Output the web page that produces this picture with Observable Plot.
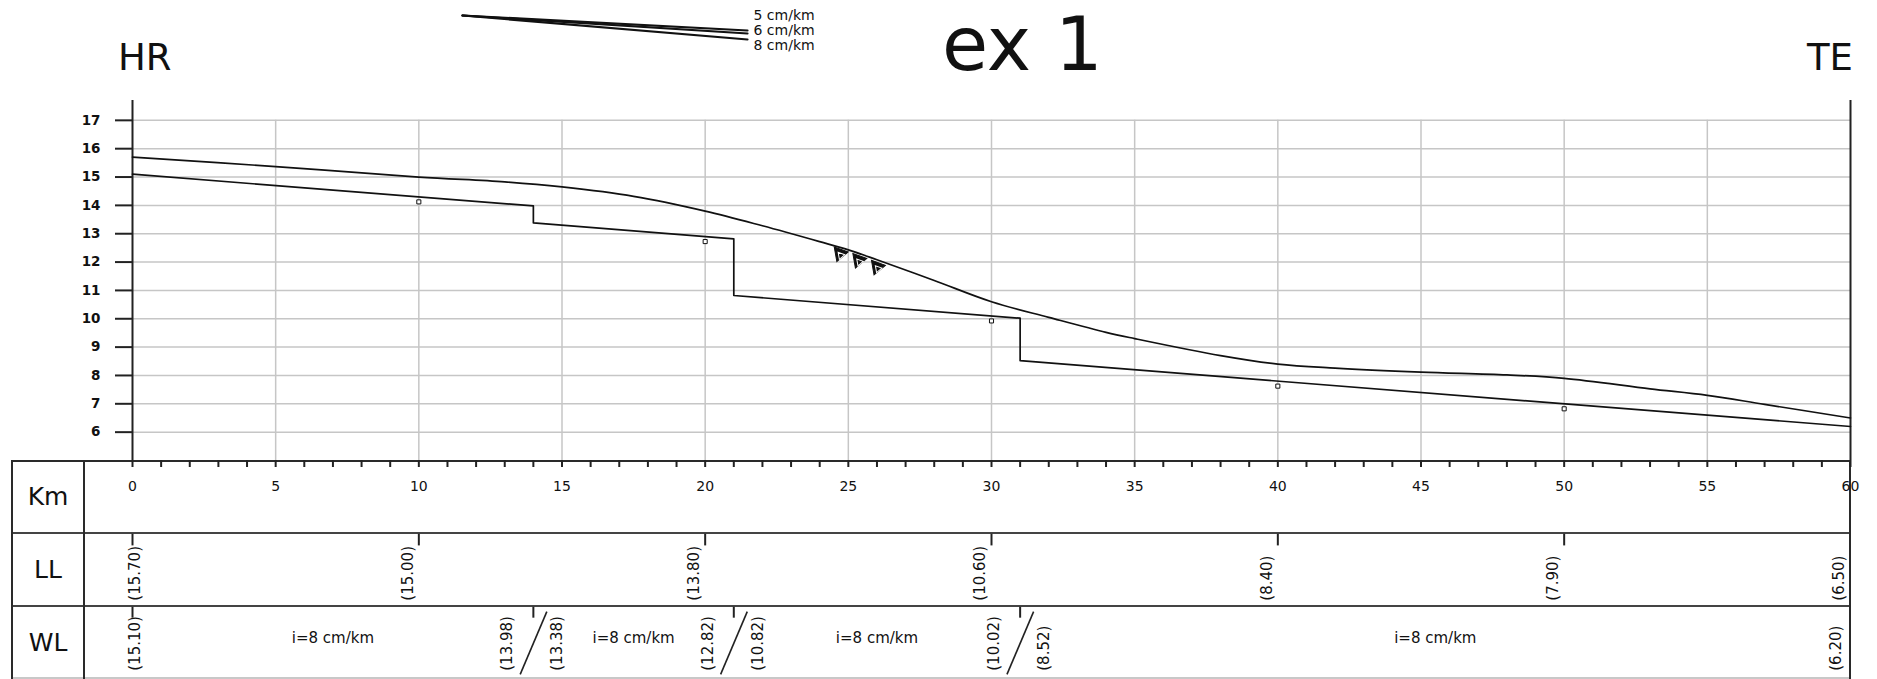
<!DOCTYPE html>
<html>
<head>
<meta charset="utf-8">
<script src="https://cdn.jsdelivr.net/npm/d3@7"></script>
<script src="https://cdn.jsdelivr.net/npm/@observablehq/plot@0.6"></script>
<style>
html, body { margin: 0; padding: 0; background: #fff; }
#wrap { position: relative; width: 1877px; height: 679px; overflow: hidden; font-family: "DejaVu Sans", sans-serif; color: #111; background: #fff; }
.line { position: absolute; background: #2a2a2a; }
.rowlab { position: absolute; left: 12px; width: 72px; height: 73px; line-height: 73px; text-align: center; font-size: 25px; }
.ttl { position: absolute; line-height: 1; white-space: nowrap; }
#wrap svg { position: absolute; }
</style>
</head>
<body>
<div id="wrap"></div>
<script>
// ---------- data ----------
// levee level (LL) at the stations (km)
const llKm = [0, 10, 20, 30, 40, 50, 60];
const llLevel = [15.70, 15.00, 13.80, 10.60, 8.40, 7.90, 6.50];
// levee profile
const llProfileKm = [0, 5, 10, 13, 15, 17.5, 20, 22, 24, 25, 26, 28, 30, 32, 34, 35, 38, 40, 42, 45, 48, 50, 53, 55, 57, 60];
const llProfileLevel = [15.70, 15.37, 15.00, 14.83, 14.65, 14.32, 13.80, 13.28, 12.72, 12.43, 12.08, 11.35, 10.60, 10.05, 9.52, 9.30, 8.70, 8.40, 8.26, 8.12, 8.02, 7.90, 7.53, 7.30, 6.98, 6.50];
// water level (WL) profile with steps
const wlKm = [0, 14, 14, 21, 21, 31, 31, 60];
const wlLevel = [15.10, 13.98, 13.38, 12.82, 10.82, 10.02, 8.52, 6.20];
// slope segments
const segStartKm = [0, 14, 21, 31];
const segEndKm = [14, 21, 31, 60];
const segLabels = ["i=8 cm/km", "i=8 cm/km", "i=8 cm/km", "i=8 cm/km"];
// small station markers on WL line
const stationKm = [10, 20, 30, 40, 50];
const stationLevel = [14.30, 12.90, 10.10, 7.80, 7.00];
// water-level symbols on LL line
const symbolKm = [24.7, 25.35, 26.0];
const symbolLevel = [12.55, 12.32, 12.08];
// legend
const legendSlopes = [5, 6, 8];
const legendLabels = ["5 cm/km", "6 cm/km", "8 cm/km"];
// ticks
const yTicks = [6, 7, 8, 9, 10, 11, 12, 13, 14, 15, 16, 17];
const kmMinor = d3.range(0, 61, 1);
const kmMajor = [0, 5, 10, 15, 20, 25, 30, 35, 40, 45, 50, 55, 60];
const gridKm = [5, 10, 15, 20, 25, 30, 35, 40, 45, 50, 55];
const rowLabels = ["Km", "LL", "WL"];

// ---------- derived tables ----------
const llProfile = llProfileKm.map((k, i) => ({km: k, level: llProfileLevel[i]}));
const wl = wlKm.map((k, i) => ({km: k, level: wlLevel[i]}));
const ll = llKm.map((k, i) => ({km: k, level: llLevel[i]}));
const stations = stationKm.map((k, i) => ({km: k, level: stationLevel[i]}));
const symbols = symbolKm.map((k, i) => ({km: k, level: symbolLevel[i]}));
const segments = segStartKm.map((s, i) => ({start: s, end: segEndKm[i], label: segLabels[i]}));
const stepKm = wlKm.filter((k, i) => i > 0 && wlKm[i - 1] === k);
const wlLabels = [];
wl.forEach((d, i) => {
  let side;
  if (i === 0) side = "first";
  else if (i === wl.length - 1) side = "last";
  else if (wlKm[i + 1] === d.km) side = "before";
  else side = "after";
  wlLabels.push({km: d.km, level: d.level, side});
});
const fmt = v => `(${v.toFixed(2)})`;

const wrap = document.getElementById("wrap");
const font = "DejaVu Sans";
const baseStyle = {background: "transparent", overflow: "visible", fontFamily: font, color: "#111"};

// ---------- table frame (HTML) ----------
function addLine(l, t, w, h, color) {
  const e = document.createElement("div");
  e.className = "line";
  Object.assign(e.style, {left: l + "px", top: t + "px", width: w + "px", height: h + "px"});
  if (color) e.style.background = color;
  wrap.appendChild(e);
}
addLine(11, 460, 1840, 2);
addLine(11, 532, 1840, 2, "#444");
addLine(11, 605, 1840, 2, "#444");
addLine(11, 677, 1840, 2, "#c8c8c8");
addLine(11, 460, 2, 219);
addLine(83, 460, 2, 219);
addLine(1849, 460, 2, 219);
rowLabels.forEach((t, i) => {
  const e = document.createElement("div");
  e.className = "rowlab";
  e.style.top = (460 + i * 73) + "px";
  e.textContent = t;
  wrap.appendChild(e);
});

// ---------- main chart ----------
const main = Plot.plot({
  width: 1877, height: 533,
  marginTop: 100, marginBottom: 73, marginLeft: 132, marginRight: 27,
  style: baseStyle,
  x: {domain: [0, 60]},
  y: {domain: [5, 17.7]},
  marks: [
    Plot.gridY(yTicks, {stroke: "#c6c6c6", strokeOpacity: 1, strokeWidth: 1.5}),
    Plot.ruleX(gridKm, {y1: 5, y2: 17, stroke: "#c6c6c6", strokeOpacity: 1, strokeWidth: 1.5}),
    Plot.ruleX([0, 60], {stroke: "#222", strokeWidth: 2}),
    Plot.axisY(yTicks, {tickSize: 17, tickPadding: 15, fontSize: 13.5, fontWeight: "bold", label: null, strokeWidth: 2, stroke: "#222"}),
    Plot.axisX(kmMinor, {tickSize: 7, tickFormat: () => "", label: null, strokeWidth: 2, stroke: "#222"}),
    Plot.axisX(kmMajor, {tickSize: 0, tickPadding: 21, fontSize: 14, label: null}),
    Plot.line(llProfile, {x: "km", y: "level", curve: "catmull-rom", stroke: "#111", strokeWidth: 1.7}),
    Plot.line(wl, {x: "km", y: "level", stroke: "#111", strokeWidth: 1.7}),
    Plot.dot(stations, {x: "km", y: "level", symbol: "square", r: 2.3, fill: "white", stroke: "#111", strokeWidth: 1, dy: 5}),
    Plot.dot(symbols, {x: "km", y: "level", symbol: "triangle", rotate: 200, r: 5.5, fill: "#111", stroke: "#111", strokeWidth: 1, dy: 7}),
    Plot.dot(symbols, {x: "km", y: "level", symbol: "triangle", rotate: 200, r: 2.6, fill: "none", stroke: "white", strokeWidth: 1, dy: 9, dx: 1})
  ]
});
main.style.left = "0px"; main.style.top = "0px";
wrap.appendChild(main);

// ---------- table rows (LL, WL) ----------
const tbl = Plot.plot({
  width: 1877, height: 146,
  marginTop: 0, marginBottom: 0, marginLeft: 132, marginRight: 27,
  style: baseStyle,
  x: {domain: [0, 60], axis: null},
  y: {domain: [0, 2], range: [0, 146], axis: null},
  marks: [
    // LL row
    Plot.ruleX(ll.filter(d => d.km < 60), {x: "km", y1: 0.01, y2: 0.17, stroke: "#222", strokeWidth: 2}),
    Plot.text(ll.filter(d => d.km === 0), {x: "km", y: 0.92, text: d => fmt(d.level), rotate: -90, textAnchor: "start", dx: 3, fontSize: 15}),
    Plot.text(ll.filter(d => d.km > 0), {x: "km", y: 0.92, text: d => fmt(d.level), rotate: -90, textAnchor: "start", dx: -11, fontSize: 15}),
    // WL row
    Plot.ruleX([0, ...stepKm], {y1: 1.01, y2: 1.16, stroke: "#222", strokeWidth: 2}),
    Plot.link(stepKm, {x1: d => d - 0.46, y1: 1.93, x2: d => d + 0.47, y2: 1.07, stroke: "#222", strokeWidth: 1.6}),
    Plot.text(wlLabels.filter(d => d.side === "first"), {x: "km", y: 1.88, text: d => fmt(d.level), rotate: -90, textAnchor: "start", dx: 3, fontSize: 15}),
    Plot.text(wlLabels.filter(d => d.side === "before"), {x: "km", y: 1.88, text: d => fmt(d.level), rotate: -90, textAnchor: "start", dx: -26, fontSize: 15}),
    Plot.text(wlLabels.filter(d => d.side === "after"), {x: "km", y: 1.88, text: d => fmt(d.level), rotate: -90, textAnchor: "start", dx: 24, fontSize: 15}),
    Plot.text(wlLabels.filter(d => d.side === "last"), {x: "km", y: 1.88, text: d => fmt(d.level), rotate: -90, textAnchor: "start", dx: -14, fontSize: 15}),
    Plot.text(segments, {x: d => (d.start + d.end) / 2, y: 1.43, text: "label", fontSize: 15})
  ]
});
tbl.style.left = "0px"; tbl.style.top = "533px";
wrap.appendChild(tbl);

// ---------- legend ----------
const legData = legendSlopes.flatMap(s => [{s, d: 0, v: 0}, {s, d: 1, v: -s}]);
const leg = Plot.plot({
  width: 420, height: 55, margin: 0,
  style: baseStyle,
  x: {domain: [0, 1], range: [12, 297], axis: null},
  y: {domain: [0, -10], range: [15, 45], axis: null},
  marks: [
    Plot.line(legData, {x: "d", y: "v", z: "s", stroke: "#111", strokeWidth: 2.2}),
    Plot.text(legendLabels, {x: 1, y: (d, i) => -i * 5.05, dx: 6, textAnchor: "start", fontSize: 14})
  ]
});
leg.style.left = "450px"; leg.style.top = "0px";
wrap.appendChild(leg);

// ---------- titles ----------
function addTitle(text, left, top, size) {
  const e = document.createElement("div");
  e.className = "ttl";
  Object.assign(e.style, {left: left + "px", top: top + "px", fontSize: size + "px"});
  e.textContent = text;
  wrap.appendChild(e);
}
addTitle("HR", 118, 39, 37);
addTitle("TE", 1807, 39, 37);
addTitle("ex 1", 942, 7, 75);
</script>
</body>
</html>
